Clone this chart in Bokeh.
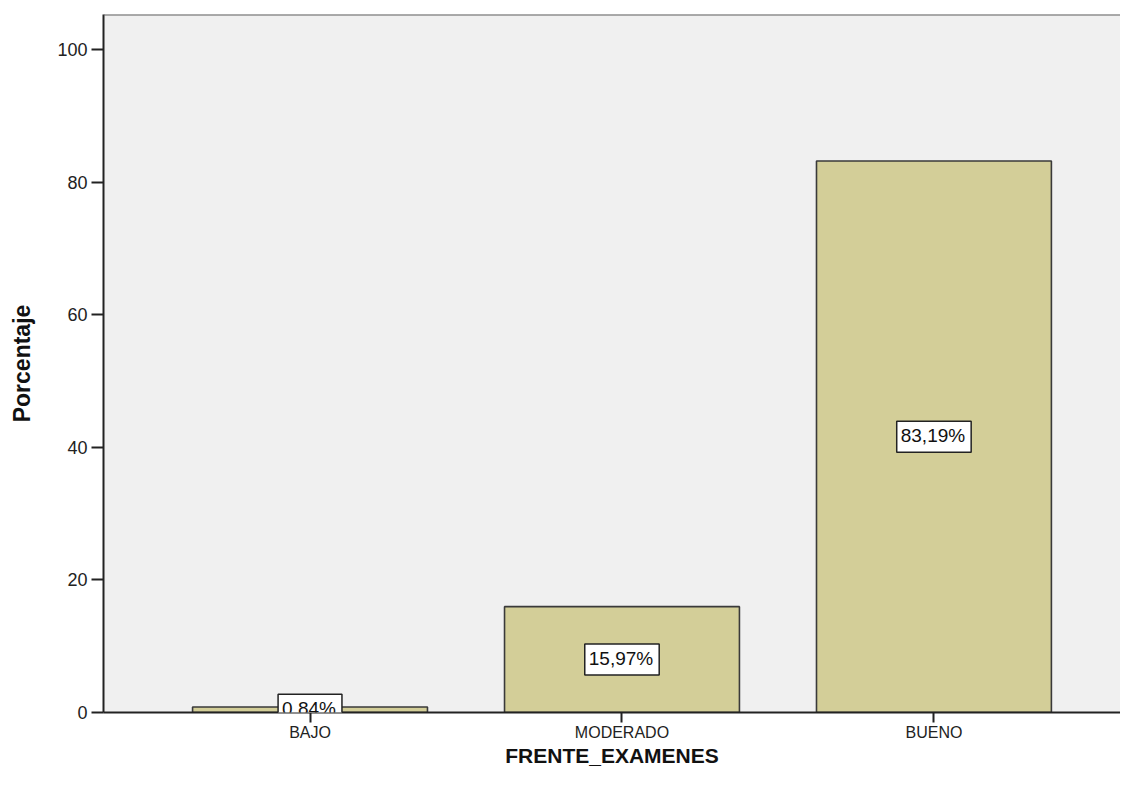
from bokeh.plotting import figure
from bokeh.models import Range1d, FixedTicker, Label, ColumnDataSource, Span
from bokeh.embed import file_html
from bokeh.resources import INLINE

categories = ["BAJO", "MODERADO", "BUENO"]
percentages = [0.84, 15.97, 83.19]
label_texts = ["0,84%", "15,97%", "83,19%"]
y_ticks = [0, 20, 40, 60, 80, 100]

FONT = "Liberation Sans"
xs = list(range(len(categories)))
Y_MAX = 105.3

p = figure(width=1120, height=773, output_backend="svg", toolbar_location=None,
           x_range=Range1d(-0.662, 2.598), y_range=Range1d(0, Y_MAX),
           min_border_left=103, min_border_right=0, min_border_top=14, min_border_bottom=61)

p.background_fill_color = "#F0F0F0"
p.border_fill_color = "white"
p.outline_line_color = None
p.xgrid.visible = False
p.ygrid.visible = False

p.add_layout(Span(location=Y_MAX, dimension="width", line_color="#5f5f5f", line_width=2))

src = ColumnDataSource(dict(x=xs, top=percentages, cat=categories))
p.vbar(x="x", top="top", width=0.753, bottom=0, source=src,
       fill_color="#D3CE98", line_color="#3a3a3a", line_width=1.6)

for xi, v, t in zip(xs, percentages, label_texts):
    p.add_layout(Label(x=xi, y=v / 2, text=t, text_align="center", text_baseline="middle",
                       text_font=FONT, text_font_size="19px", text_color="#111111",
                       background_fill_color="white", border_line_color="#222222",
                       border_line_width=1.5, padding=(4, 6, 4, 6)))

# y axis
ya = p.yaxis[0]
ya.ticker = FixedTicker(ticks=y_ticks)
ya.axis_label = "Porcentaje"
ya.axis_label_text_font = FONT
ya.axis_label_text_font_style = "bold"
ya.axis_label_text_font_size = "23px"
ya.axis_label_text_color = "#111111"
ya.axis_label_standoff = 19
ya.major_label_text_font = FONT
ya.major_label_text_font_size = "18px"
ya.major_label_text_color = "#222222"
ya.major_label_standoff = 4
ya.major_tick_out = 12
ya.major_tick_in = 0
ya.minor_tick_out = 0
ya.minor_tick_in = 0
ya.axis_line_color = "#222222"
ya.axis_line_width = 2
ya.major_tick_line_color = "#222222"
ya.major_tick_line_width = 2

# x axis
xa = p.xaxis[0]
xa.ticker = FixedTicker(ticks=xs)
xa.major_label_overrides = {i: c for i, c in zip(xs, categories)}
xa.axis_label = "FRENTE_EXAMENES"
xa.axis_label_text_font = FONT
xa.axis_label_text_font_style = "bold"
xa.axis_label_text_font_size = "21px"
xa.axis_label_text_color = "#111111"
xa.axis_label_standoff = 0
xa.major_label_text_font = FONT
xa.major_label_text_font_size = "16px"
xa.major_label_text_color = "#222222"
xa.major_label_standoff = 1
xa.major_tick_out = 10
xa.major_tick_in = 0
xa.minor_tick_out = 0
xa.minor_tick_in = 0
xa.axis_line_color = "#222222"
xa.axis_line_width = 2
xa.major_tick_line_color = "#222222"
xa.major_tick_line_width = 2

open("out.html", "w").write(file_html(p, INLINE))
